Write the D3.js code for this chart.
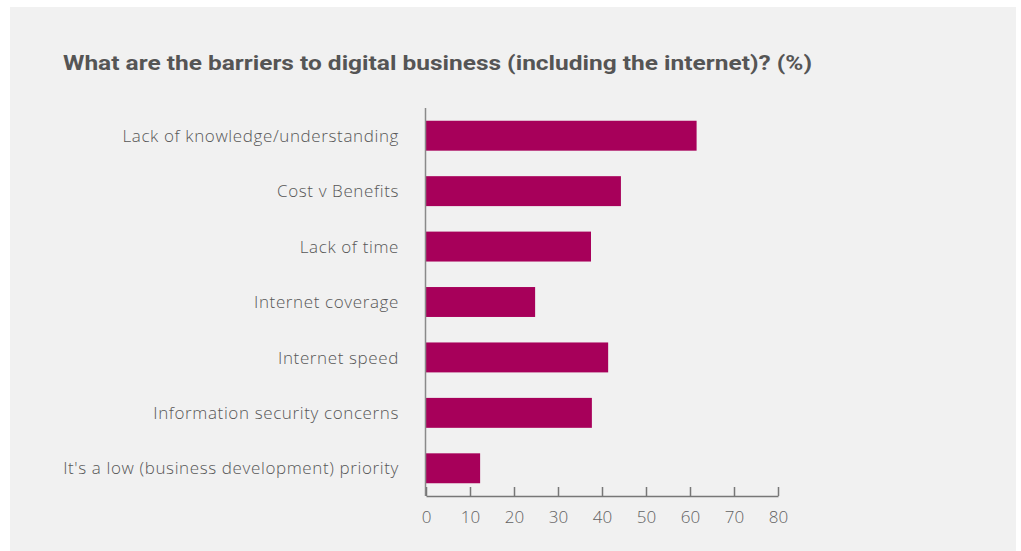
<!DOCTYPE html>
<html>
<head>
<meta charset="utf-8">
<script src="https://cdn.jsdelivr.net/npm/d3@7"></script>
<style>
  html, body { margin: 0; padding: 0; background: #ffffff; }
  svg { display: block; }
</style>
</head>
<body>
<svg id="chart" width="1021" height="551"></svg>
<script>
const categories = [
  "Lack of knowledge/understanding",
  "Cost v Benefits",
  "Lack of time",
  "Internet coverage",
  "Internet speed",
  "Information security concerns",
  "It's a low (business development) priority"
];
const values = [61.5, 44.3, 37.5, 24.8, 41.4, 37.7, 12.3];
const tickValues = [0, 10, 20, 30, 40, 50, 60, 70, 80];
const title = "What are the barriers to digital business (including the internet)? (%)";

const svg = d3.select("#chart");
const W = 1021, H = 551;

// panel background
svg.append("rect")
  .attr("x", 10).attr("y", 7)
  .attr("width", 1006).attr("height", H - 7)
  .attr("fill", "#f1f1f1");

const plotLeft = 426, plotRight = 778, plotTop = 108, plotBottom = 496;

const x = d3.scaleLinear().domain([0, 80]).range([plotLeft, plotRight]);
const y = d3.scaleBand().domain(categories).range([plotTop, plotBottom])
  .paddingInner(0.46).paddingOuter(0.23);

const titleFont = "'Roboto', 'DejaVu Sans', sans-serif";
const labelFont = "'Open Sans', 'Roboto', sans-serif";

// title
const t = svg.append("text")
  .attr("x", 63).attr("y", 70)
  .attr("fill", "#555555")
  .attr("font-family", titleFont)
  .attr("font-weight", "bold")
  .attr("font-size", 21)
  .text(title);
t.attr("textLength", 749).attr("lengthAdjust", "spacingAndGlyphs");

// bars
svg.append("g").selectAll("rect")
  .data(categories)
  .join("rect")
  .attr("x", x(0))
  .attr("y", d => y(d))
  .attr("height", y.bandwidth())
  .attr("width", (d, i) => x(values[i]) - x(0))
  .attr("fill", "#a7005a");

// category labels
svg.append("g").selectAll("text")
  .data(categories)
  .join("text")
  .attr("x", 399)
  .attr("y", d => y(d) + y.bandwidth() / 2)
  .attr("dy", "0.36em")
  .attr("text-anchor", "end")
  .attr("fill", "#575757")
  .attr("font-family", labelFont)
  .attr("font-weight", 300)
  .attr("font-size", 17)
  .attr("letter-spacing", "0.62px")
  .text(d => d);

// vertical axis line
svg.append("line")
  .attr("x1", plotLeft - 0.5).attr("x2", plotLeft - 0.5)
  .attr("y1", plotTop).attr("y2", plotBottom)
  .attr("stroke", "#8a8a8a").attr("stroke-width", 1.5);

// bottom axis with upward ticks
const xAxis = d3.axisBottom(x)
  .tickValues(tickValues)
  .tickSize(-9)
  .tickSizeOuter(0)
  .tickPadding(15);
const gx = svg.append("g")
  .attr("transform", `translate(0,${plotBottom})`)
  .call(xAxis);
gx.select(".domain").attr("stroke", "#777777").attr("stroke-width", 1.5);
gx.selectAll(".tick line").attr("stroke", "#777777").attr("stroke-width", 1.5);
gx.selectAll(".tick text")
  .attr("fill", "#626262")
  .attr("font-family", labelFont)
  .attr("font-weight", 300)
  .attr("font-size", 17);
</script>
</body>
</html>
